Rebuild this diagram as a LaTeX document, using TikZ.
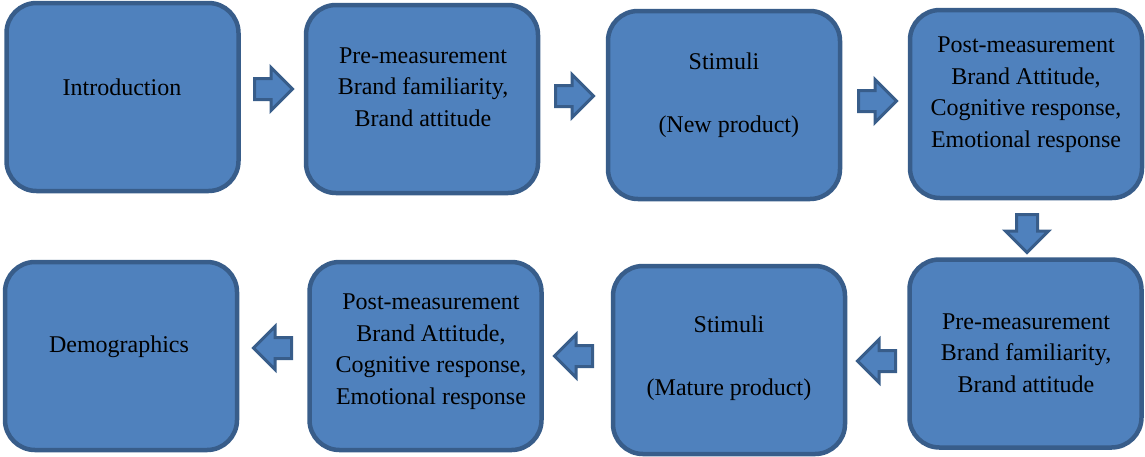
\documentclass[tikz,border=0pt]{standalone}
\usepackage{fontspec}
\setmainfont{Liberation Serif}
\usepackage{tikz}
\usetikzlibrary{shapes.arrows, positioning, calc}
\definecolor{boxfill}{HTML}{4F81BD}
\definecolor{boxline}{HTML}{385D8A}
\tikzset{
  stage/.style={draw=boxline, fill=boxfill, line width=4.5pt, rounded corners=30pt,
    minimum width=232pt, minimum height=188pt, inner sep=0pt},
  stagetext/.style={align=center, anchor=base, font=\fontsize{24}{31.5}\selectfont},
  blockarrow/.style={single arrow, draw=boxline, fill=boxfill, line width=3pt,
    inner sep=9pt, single arrow head extend=11pt, minimum height=38pt, anchor=tail},
}

\begin{document}
\begin{tikzpicture}[x=1pt, y=-1pt]
\useasboundingbox (0,0) rectangle (1145,456);

% Top row
\node[stage] (b1) at (122.5,97) {};
\node[stage] (b2) at (422,99) {};
\node[stage] (b3) at (724,105) {};
\node[stage] (b4) at (1026,104) {};

% Bottom row
\node[stage] (b5) at (1025.5,353.5) {};
\node[stage] (b6) at (729,360) {};
\node[stage] (b7) at (425.5,356) {};
\node[stage] (b8) at (121,356) {};

% Texts (placed at the baseline of the last line)
\node[stagetext] (t1) at (122,95) {Introduction};
\node[stagetext] (t2) at (423,126) {Pre-measurement\\Brand familiarity,\\Brand attitude};
\node[stagetext] (t3) at (724,132) {Stimuli\\\mbox{}\\\hspace{0.4em}(New product)};
\node[stagetext] (t4) at (1026,147) {Post-measurement\\Brand Attitude,\\Cognitive response,\\Emotional response};
\node[stagetext] (t5) at (1026,392) {Pre-measurement\\Brand familiarity,\\Brand attitude};
\node[stagetext] (t6) at (729,395) {Stimuli\\\mbox{}\\(Mature product)};
\node[stagetext] (t7) at (431,404) {Post-measurement\\Brand Attitude,\\Cognitive response,\\Emotional response};
\node[stagetext] (t8) at (119,352) {Demographics};

% Block arrows
\node[blockarrow] (a12) at (253,89) {};
\node[blockarrow] (a23) at (554,96) {};
\node[blockarrow] (a34) at (857,101) {};
\node[blockarrow, shape border rotate=270] (a45) at (1027,213) {};
\node[blockarrow, shape border rotate=180] (a56) at (897,361) {};
\node[blockarrow, shape border rotate=180] (a67) at (594,356) {};
\node[blockarrow, shape border rotate=180] (a78) at (293,348) {};
\end{tikzpicture}
\end{document}
